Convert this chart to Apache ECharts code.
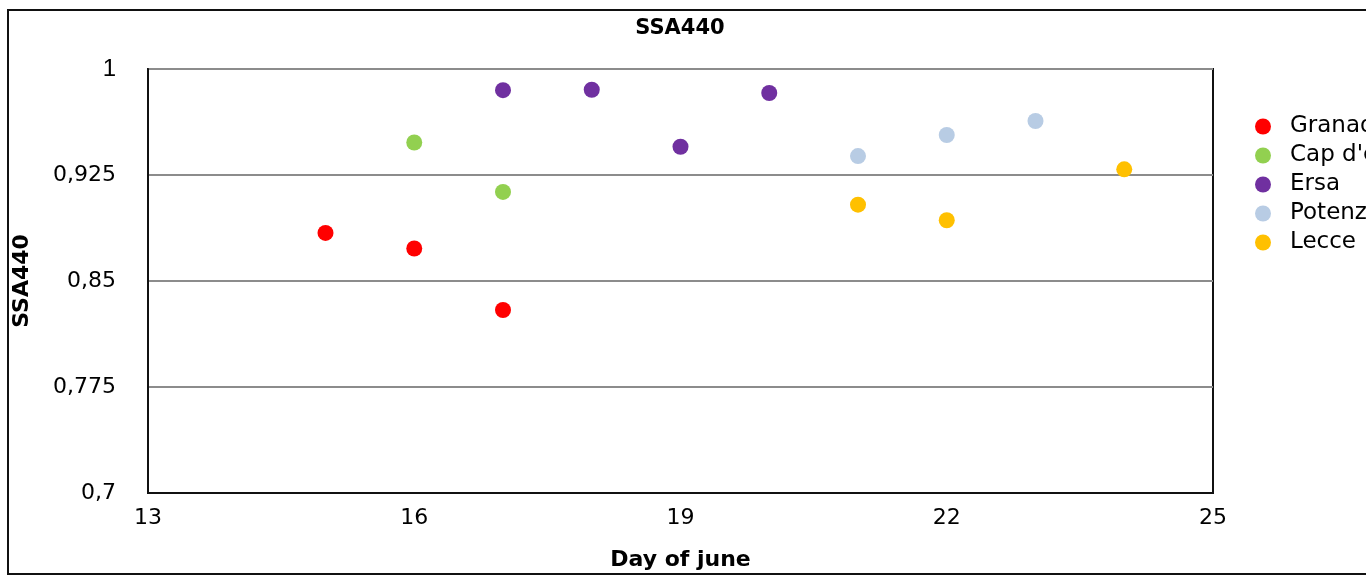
<!DOCTYPE html>
<html>
<head>
<meta charset="utf-8">
<script src="https://cdn.jsdelivr.net/npm/echarts@6/dist/echarts.min.js"></script>
<style>html,body{margin:0;padding:0;background:#fff}#c{width:1366px;height:576px}</style>
</head>
<body>
<div id="c"></div>
<script>
const seriesNames = ["Granada", "Cap d'en Font", "Ersa", "Potenza", "Lecce"];
const seriesColors = ["#ff0000", "#92d050", "#7030a0", "#b8cce4", "#ffc000"];
const granada = [[15, 0.884], [16, 0.873], [17, 0.8295]];
const capDenFont = [[16, 0.948], [17, 0.913]];
const ersa = [[17, 0.985], [18, 0.9853], [19, 0.945], [20, 0.983]];
const potenza = [[21, 0.9384], [22, 0.9533], [23, 0.9632]];
const lecce = [[21, 0.904], [22, 0.893], [24, 0.929]];
const xTicks = [13, 16, 19, 22, 25];
const yTicks = [0.7, 0.775, 0.85, 0.925, 1];

const allData = [granada, capDenFont, ersa, potenza, lecce];
const FONT = "DejaVu Sans";

const chart = echarts.init(document.getElementById('c'), null, {renderer: 'canvas'});
chart.setOption({
  animation: false,
  backgroundColor: '#fff',
  textStyle: {fontFamily: FONT, color: '#000'},
  title: {
    text: 'SSA440',
    left: 675, top: 13, textAlign: 'center',
    textStyle: {fontFamily: FONT, fontSize: 21, fontWeight: 'bold', color: '#000'}
  },
  legend: {
    orient: 'vertical',
    left: 1250, top: 107,
    itemWidth: 44, itemHeight: 16, itemGap: 0,
    icon: 'circle',
    textStyle: {fontFamily: FONT, fontSize: 23, color: '#000', lineHeight: 29},
    data: seriesNames
  },
  graphic: [{
    type: 'rect', silent: true,
    shape: {x: 8, y: 10, width: 1400, height: 564},
    style: {fill: 'none', stroke: '#111', lineWidth: 2}
  }],
  grid: {
    left: 148, right: 153, top: 69, bottom: 83,
    show: true, borderColor: '#111', borderWidth: 2, backgroundColor: 'transparent'
  },
  xAxis: {
    type: 'value', min: xTicks[0], max: xTicks[xTicks.length - 1], interval: 3,
    name: 'Day of june', nameLocation: 'middle', nameGap: 56,
    nameTextStyle: {fontFamily: FONT, fontSize: 22, fontWeight: 'bold', color: '#000'},
    axisLine: {show: true, lineStyle: {color: '#111', width: 2}},
    axisTick: {show: false},
    splitLine: {show: false},
    axisLabel: {fontFamily: FONT, fontSize: 22, color: '#000', margin: 14}
  },
  yAxis: {
    type: 'value', min: yTicks[0], max: yTicks[yTicks.length - 1], interval: 0.075,
    name: 'SSA440', nameLocation: 'middle', nameGap: 115, nameRotate: 90,
    nameTextStyle: {fontFamily: FONT, fontSize: 22, fontWeight: 'bold', color: '#000'},
    axisLine: {show: true, lineStyle: {color: '#111', width: 2}},
    axisTick: {show: false},
    splitLine: {show: true, lineStyle: {color: '#8c8c8c', width: 2}},
    axisLabel: {
      fontFamily: FONT, fontSize: 22, color: '#000', margin: 32,
      formatter: function (v) {
        const s = String(Number(v.toFixed(3))).replace('.', ',');
        return s === '1' ? '{a|1}' : s;
      },
      rich: {a: {fontFamily: 'Liberation Sans', fontSize: 24, color: '#000'}}
    }
  },
  series: allData.map((d, i) => ({
    name: seriesNames[i],
    type: 'scatter',
    data: d,
    symbol: 'circle',
    symbolSize: 16,
    itemStyle: {color: seriesColors[i], opacity: 1}
  }))
});
</script>
</body>
</html>
